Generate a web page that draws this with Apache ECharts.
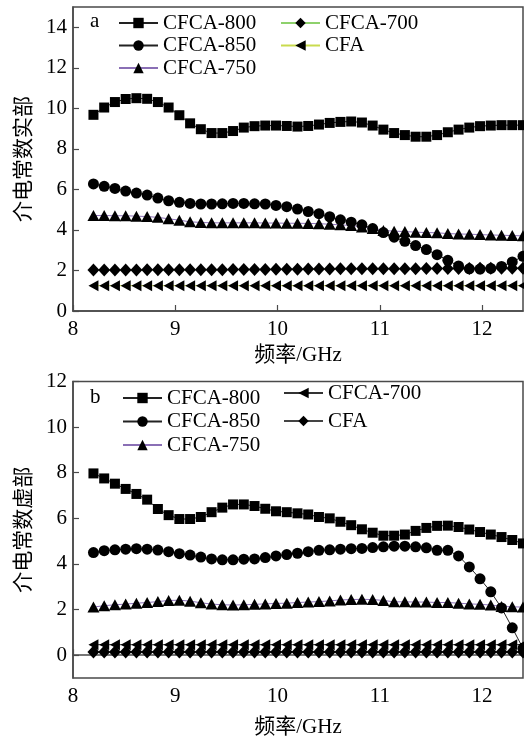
<!DOCTYPE html>
<html><head><meta charset="utf-8">
<script src="https://cdn.jsdelivr.net/npm/echarts@6/dist/echarts.min.js"></script>
<style>
html,body{margin:0;padding:0;background:#fff;}
#c1{position:absolute;left:0;top:0;width:524px;height:371px;}
#c2{position:absolute;left:0;top:371px;width:524px;height:372px;}
</style>
</head><body><div id="c1"></div><div id="c2"></div>
<script>
// ---- data ----
const freq = [8.200,8.305,8.410,8.515,8.620,8.725,8.830,8.935,9.040,9.145,9.250,9.355,9.460,9.565,9.670,9.775,9.880,9.985,10.090,10.195,10.300,10.405,10.510,10.615,10.720,10.825,10.930,11.035,11.140,11.245,11.350,11.455,11.560,11.665,11.770,11.875,11.980,12.085,12.190,12.295,12.400];
const xTicks = [8,9,10,11,12];
const yTicksReal = [0,2,4,6,8,10,12,14];
const yTicksImag = [0,2,4,6,8,10,12];

const real800 = [9.68,10.04,10.31,10.46,10.50,10.47,10.31,10.04,9.66,9.26,8.97,8.78,8.78,8.88,9.05,9.12,9.15,9.15,9.13,9.10,9.13,9.20,9.28,9.33,9.35,9.30,9.15,8.95,8.78,8.68,8.60,8.60,8.68,8.82,8.95,9.05,9.12,9.15,9.17,9.17,9.17];
const real850 = [6.27,6.15,6.05,5.92,5.82,5.72,5.57,5.44,5.36,5.31,5.28,5.28,5.29,5.31,5.31,5.29,5.28,5.21,5.15,5.03,4.91,4.80,4.65,4.50,4.38,4.25,4.07,3.87,3.64,3.44,3.23,3.03,2.78,2.50,2.22,2.08,2.07,2.10,2.20,2.42,2.70];
const real750 = [4.71,4.71,4.70,4.70,4.68,4.66,4.62,4.55,4.48,4.40,4.37,4.35,4.35,4.35,4.35,4.35,4.34,4.34,4.33,4.33,4.32,4.31,4.28,4.25,4.22,4.15,4.07,3.97,3.94,3.92,3.89,3.87,3.86,3.82,3.80,3.79,3.77,3.75,3.74,3.72,3.71];
const real700 = [2.02,2.02,2.02,2.02,2.02,2.03,2.03,2.03,2.03,2.03,2.04,2.04,2.04,2.05,2.05,2.05,2.05,2.06,2.06,2.06,2.07,2.07,2.07,2.08,2.08,2.08,2.08,2.09,2.09,2.09,2.09,2.10,2.10,2.10,2.10,2.10,2.11,2.11,2.11,2.11,2.11];
const realCFA = [1.25,1.25,1.25,1.25,1.25,1.25,1.25,1.25,1.25,1.25,1.25,1.25,1.25,1.25,1.25,1.25,1.25,1.25,1.25,1.25,1.25,1.25,1.25,1.25,1.25,1.25,1.25,1.25,1.25,1.25,1.25,1.25,1.25,1.25,1.25,1.25,1.25,1.25,1.25,1.25,1.25];

const imag800 = [7.97,7.75,7.52,7.29,7.07,6.82,6.41,6.14,5.97,5.97,6.06,6.27,6.47,6.61,6.61,6.54,6.42,6.31,6.27,6.22,6.17,6.06,6.00,5.85,5.70,5.52,5.37,5.24,5.24,5.29,5.45,5.58,5.67,5.68,5.62,5.51,5.40,5.29,5.18,5.05,4.90];
const imag850 = [4.50,4.58,4.62,4.65,4.67,4.65,4.61,4.54,4.45,4.39,4.30,4.22,4.18,4.18,4.21,4.22,4.28,4.35,4.41,4.47,4.54,4.60,4.62,4.65,4.67,4.68,4.72,4.75,4.78,4.78,4.75,4.71,4.60,4.60,4.35,3.87,3.35,2.78,2.07,1.20,0.30];
const imag750 = [2.11,2.17,2.21,2.24,2.28,2.31,2.35,2.40,2.41,2.37,2.30,2.24,2.21,2.20,2.21,2.23,2.25,2.27,2.28,2.31,2.33,2.35,2.38,2.42,2.44,2.45,2.44,2.40,2.34,2.34,2.33,2.33,2.31,2.31,2.28,2.25,2.23,2.20,2.14,2.12,2.11];
const imag700 = [0.46,0.46,0.46,0.46,0.46,0.46,0.46,0.46,0.46,0.46,0.46,0.46,0.46,0.46,0.46,0.46,0.46,0.46,0.46,0.46,0.46,0.46,0.46,0.46,0.46,0.46,0.46,0.46,0.46,0.46,0.46,0.46,0.46,0.46,0.46,0.46,0.46,0.46,0.46,0.46,0.46];
const imagCFA = [0.14,0.14,0.14,0.14,0.14,0.14,0.14,0.14,0.14,0.14,0.14,0.14,0.14,0.14,0.14,0.14,0.14,0.14,0.14,0.14,0.14,0.14,0.14,0.14,0.14,0.14,0.14,0.14,0.14,0.14,0.14,0.14,0.14,0.14,0.14,0.14,0.14,0.14,0.14,0.14,0.14];

// ---- styling ----
const FONT = '"Liberation Serif", "Times New Roman", "Noto Sans CJK SC", serif';
const AX = '#4a4a4a';
const LEFT_TRI = 'path://M0,5L10,0L10,10Z';

function pair(xs, ys) { return xs.map((x, i) => [x, ys[i]]); }

function mkSeries(name, ys, symbol, size, lineColor) {
  return {
    name: name, type: 'line', data: pair(freq, ys),
    symbol: symbol, symbolSize: size, showAllSymbol: true,
    lineStyle: { color: lineColor, width: 1 },
    itemStyle: { color: '#000' },
    emphasis: { disabled: true }, animation: false
  };
}

function makeOption(o) {
  return {
    animation: false,
    grid: { left: 73, right: 1, top: o.top, height: o.height, show: true,
            borderColor: AX, borderWidth: 1.5, backgroundColor: 'transparent' },
    xAxis: {
      type: 'value', min: 8, max: 12.4,
      name: '频率/GHz', nameLocation: 'middle', nameGap: o.xNameGap,
      nameTextStyle: { fontFamily: FONT, fontSize: 21, color: '#000' },
      axisLine: { show: true, lineStyle: { color: AX, width: 1.5 } },
      axisTick: { show: true, inside: true, length: 6, customValues: xTicks, lineStyle: { color: AX, width: 1.2 } },
      axisLabel: { customValues: xTicks, fontFamily: FONT, fontSize: 21, color: '#000', margin: 8 },
      splitLine: { show: false }
    },
    yAxis: {
      type: 'value', min: o.ymin, max: o.ymax,
      name: o.yName, nameLocation: 'middle', nameGap: o.yNameGap, nameRotate: 90,
      nameTextStyle: { fontFamily: FONT, fontSize: 21, color: '#000' },
      axisLine: { show: true, lineStyle: { color: AX, width: 1.5 } },
      axisTick: { show: true, inside: true, length: 6, customValues: o.yTicks, lineStyle: { color: AX, width: 1.2 } },
      axisLabel: { customValues: o.yTicks, fontFamily: FONT, fontSize: 21, color: '#000', margin: 6 },
      splitLine: { show: false }
    },
    legend: o.legends,
    graphic: [{ type: 'text', x: 90, y: o.tagY, style: { text: o.tag, font: '21px ' + FONT, fill: '#000', verticalAlign: 'middle' } }],
    series: o.series
  };
}

function legendCfg(left, top, gap, names) {
  return {
    left: left, top: top, orient: 'vertical', itemGap: gap,
    itemWidth: 39, itemHeight: 13, padding: 0,
    textStyle: { fontFamily: FONT, fontSize: 21, color: '#000', lineHeight: 22 },
    data: names, selectedMode: false
  };
}

const c1 = echarts.init(document.getElementById('c1'), null, { renderer: 'canvas' });
c1.setOption(makeOption({
  top: 7, height: 304, ymin: 0, ymax: 15, yTicks: yTicksReal,
  yName: '介电常数实部', yNameGap: 31, xNameGap: 34, tag: 'a', tagY: 21,
  legends: [
    legendCfg(118, 12, 0.5, ['CFCA-800', 'CFCA-850', 'CFCA-750']),
    legendCfg(280, 12, 0.5, ['CFCA-700', 'CFA'])
  ],
  series: [
    mkSeries('CFCA-800', real800, 'rect', 10, '#222'),
    mkSeries('CFCA-850', real850, 'circle', 11, '#222'),
    mkSeries('CFCA-750', real750, 'triangle', [12, 11], '#8a6fb5'),
    mkSeries('CFCA-700', real700, 'diamond', [12, 13], '#8ed16c'),
    mkSeries('CFA', realCFA, LEFT_TRI, [10, 11], '#c9db4e')
  ]
}));

const c2 = echarts.init(document.getElementById('c2'), null, { renderer: 'canvas' });
c2.setOption(makeOption({
  top: 8, height: 303, ymin: -1, ymax: 12, yTicks: yTicksImag,
  yName: '介电常数虚部', yNameGap: 34, xNameGap: 39, tag: 'b', tagY: 26,
  legends: [
    legendCfg(122, 16, 1.5, ['CFCA-800', 'CFCA-850', 'CFCA-750']),
    legendCfg(283, 11, 6, ['CFCA-700', 'CFA'])
  ],
  series: [
    mkSeries('CFCA-800', imag800, 'rect', 10, '#222'),
    mkSeries('CFCA-850', imag850, 'circle', 11, '#222'),
    mkSeries('CFCA-750', imag750, 'triangle', [12, 11], '#8a6fb5'),
    mkSeries('CFCA-700', imag700, LEFT_TRI, [10, 11], '#333'),
    mkSeries('CFA', imagCFA, 'diamond', [12, 13], '#444')
  ]
}));
</script>
</body></html>
